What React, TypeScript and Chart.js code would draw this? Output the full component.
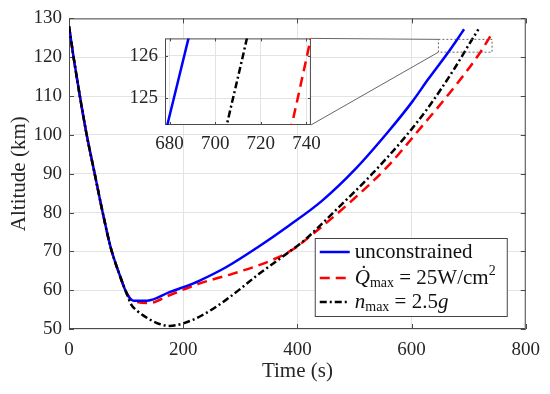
import React, { useEffect, useRef } from "react";
import { Chart, registerables } from "chart.js";
Chart.register(...registerables);

// ---- data (time in s, altitude in km) ----
const descentTime = [0, 8, 19, 31, 45, 59, 73, 89];
const descentAlt = [128, 120, 110, 100, 90, 80, 71, 63.8];

const unconTime = [100, 106, 113, 137, 176, 217, 228, 275, 330, 385, 443, 501, 559, 601, 629, 664, 679, 688.3, 692];
const unconAlt = [59.5, 58.0, 57.3, 57.3, 59.5, 61.7, 62.4, 65.9, 71, 76.6, 83, 91.1, 100.8, 108.5, 114.3, 121.2, 124.37, 126.41, 127.2];

const heatTime = [100, 113, 141, 176, 228, 286, 350, 391, 420, 501, 559, 617, 676, 722, 733.6, 741.9, 743];
const heatAlt = [59.6, 57.2, 56.7, 58.7, 61.7, 64.2, 67.4, 70.4, 73.6, 83.8, 92, 102, 112.5, 121.6, 124.37, 126.41, 126.7];

const loadTime = [100, 109, 120, 130, 153, 176, 199, 234, 275, 333, 385, 411, 472, 530, 589, 629, 676, 705.1, 713.9, 717];
const loadAlt = [59.5, 56.3, 54.6, 53.5, 51.6, 50.8, 51.4, 53.6, 57.5, 64.2, 69.8, 72.7, 81.3, 89.8, 99.5, 107, 117.3, 124.37, 126.41, 127.2];

const xTicksMain = [0, 200, 400, 600, 800];
const yTicksMain = [50, 60, 70, 80, 90, 100, 110, 120, 130];
const xTicksInset = [680, 700, 720, 740];
const yTicksInset = [125, 126];
const insetRange = { xMin: 678, xMax: 742, yMin: 124.37, yMax: 126.41 };
const zoomBox = { xMin: 647, xMax: 741, yMin: 121.3, yMax: 124.6 };

const legendLabels = ["unconstrained", "Q\u0307", "max", " = 25W/cm", "2", "n", "max", " = 2.5", "g"];

const FONT = "'Liberation Serif', 'Times New Roman', serif";
const AXIS_COLOR = "#4a4a4a";
const GRID_COLOR = "#e3e3e3";

function pts(t: number[], a: number[]) {
  return t.map((x, i) => ({ x, y: a[i] }));
}

function buildDatasets() {
  const common = pts(descentTime, descentAlt);
  return [
    {
      label: legendLabels[0],
      data: [...common, ...pts(unconTime, unconAlt)],
      borderColor: "#0000ff",
      borderWidth: 2.5,
      order: 1,
    },
    {
      label: "heat",
      data: [...common, ...pts(heatTime, heatAlt)],
      borderColor: "#ff0000",
      borderWidth: 2.5,
      borderDash: [10, 6],
      order: 2,
    },
    {
      label: "load",
      data: [...common, ...pts(loadTime, loadAlt)],
      borderColor: "#000000",
      borderWidth: 2.5,
      borderDash: [7, 3, 2, 3],
      order: 0,
    },
  ].map((d) => ({
    ...d,
    pointRadius: 0,
    fill: false,
    cubicInterpolationMode: "monotone" as const,
  }));
}

function boxTicks(len: number) {
  return {
    id: "boxTicks",
    beforeDatasetsDraw(chart: any) {
      const { ctx, chartArea: ca, scales } = chart;
      ctx.save();
      ctx.strokeStyle = AXIS_COLOR;
      ctx.lineWidth = 1;
      ctx.setLineDash([]);
      ctx.strokeRect(ca.left + 0.5, ca.top + 0.5, ca.right - ca.left - 1, ca.bottom - ca.top - 1);
      ctx.beginPath();
      for (const t of scales.x.ticks) {
        const px = Math.round(scales.x.getPixelForValue(t.value)) + 0.5;
        ctx.moveTo(px, ca.bottom);
        ctx.lineTo(px, ca.bottom - len);
        ctx.moveTo(px, ca.top);
        ctx.lineTo(px, ca.top + len);
      }
      for (const t of scales.y.ticks) {
        const py = Math.round(scales.y.getPixelForValue(t.value)) + 0.5;
        ctx.moveTo(ca.left, py);
        ctx.lineTo(ca.left + len, py);
        ctx.moveTo(ca.right, py);
        ctx.lineTo(ca.right - len, py);
      }
      ctx.stroke();
      ctx.restore();
    },
  };
}

type Run = { text: string; size: number; italic?: boolean; dy?: number };
function drawRuns(ctx: CanvasRenderingContext2D, x: number, y: number, runs: Run[]) {
  for (const r of runs) {
    ctx.font = `${r.italic ? "italic " : ""}${r.size}px ${FONT}`;
    ctx.fillText(r.text, x, y + (r.dy || 0));
    x += ctx.measureText(r.text).width;
  }
}

const tickFont = { family: FONT, size: 19 };
const titleFont = { family: FONT, size: 21 };

export default function App() {
  const mainRef = useRef<HTMLCanvasElement>(null);
  const insetRef = useRef<HTMLCanvasElement>(null);

  useEffect(() => {
    document.body.style.margin = "0";
    Chart.defaults.font.family = FONT;
    Chart.defaults.color = "#262626";

    const INSET_LEFT = 110;
    const INSET_TOP = 20;

    const insetChart = new Chart(insetRef.current!, {
      type: "line",
      data: { datasets: buildDatasets() as any },
      options: {
        responsive: false,
        animation: false,
        events: [],
        font: { family: FONT },
        layout: { padding: { top: 11, right: 12, left: 0, bottom: 0 } },
        plugins: { legend: { display: false }, tooltip: { enabled: false } },
        scales: {
          x: {
            type: "linear",
            min: insetRange.xMin,
            max: insetRange.xMax,
            afterBuildTicks: (s: any) => {
              s.ticks = xTicksInset.map((v) => ({ value: v }));
            },
            afterFit: (s: any) => {
              s.height = 45;
            },
            grid: { color: GRID_COLOR, drawTicks: false },
            border: { display: false },
            ticks: { font: tickFont, padding: 8, maxRotation: 0, color: "#262626" },
          },
          y: {
            type: "linear",
            min: insetRange.yMin,
            max: insetRange.yMax,
            afterBuildTicks: (s: any) => {
              s.ticks = yTicksInset.map((v) => ({ value: v }));
            },
            afterFit: (s: any) => {
              s.width = 55;
            },
            grid: { color: GRID_COLOR, drawTicks: false },
            border: { display: false },
            ticks: { font: tickFont, padding: 7, color: "#262626" },
          },
        },
      } as any,
      plugins: [
        {
          id: "insetBg",
          beforeDraw(chart: any) {
            const { ctx, chartArea: ca } = chart;
            ctx.save();
            ctx.fillStyle = "#ffffff";
            ctx.fillRect(ca.left, ca.top, ca.right - ca.left, ca.bottom - ca.top);
            ctx.restore();
          },
        },
        boxTicks(3),
      ],
    });

    const overlay = {
      id: "overlay",
      afterDatasetsDraw(chart: any) {
        const { ctx, chartArea: ca, scales } = chart;
        const x = scales.x;
        const y = scales.y;
        ctx.save();
        // zoom rectangle
        const rx1 = x.getPixelForValue(zoomBox.xMin);
        const rx2 = x.getPixelForValue(zoomBox.xMax);
        const ry1 = y.getPixelForValue(zoomBox.yMax);
        const ry2 = y.getPixelForValue(zoomBox.yMin);
        ctx.strokeStyle = "#555555";
        ctx.lineWidth = 0.9;
        ctx.setLineDash([2, 2]);
        ctx.strokeRect(rx1, ry1, rx2 - rx1, ry2 - ry1);
        ctx.setLineDash([]);
        // connectors to inset
        const ia = insetChart.chartArea;
        if (ia) {
          ctx.beginPath();
          ctx.moveTo(INSET_LEFT + ia.right, INSET_TOP + ia.top);
          ctx.lineTo(rx1, ry1);
          ctx.moveTo(INSET_LEFT + ia.right, INSET_TOP + ia.bottom);
          ctx.lineTo(rx1, ry2);
          ctx.stroke();
        }
        // legend
        const lw = 193;
        const lh = 79;
        const lx = ca.right - 18 - lw;
        const ly = ca.bottom - 12 - lh;
        ctx.fillStyle = "#ffffff";
        ctx.fillRect(lx, ly, lw, lh);
        ctx.strokeStyle = "#444444";
        ctx.lineWidth = 1;
        ctx.strokeRect(lx + 0.5, ly + 0.5, lw - 1, lh - 1);
        const rows = [ly + 14, ly + 40, ly + 64];
        const ds = chart.data.datasets;
        rows.forEach((ry: number, i: number) => {
          ctx.beginPath();
          ctx.strokeStyle = ds[i].borderColor;
          ctx.lineWidth = 2.5;
          ctx.setLineDash(ds[i].borderDash || []);
          ctx.moveTo(lx + 5, ry);
          ctx.lineTo(lx + 35, ry);
          ctx.stroke();
        });
        ctx.setLineDash([]);
        ctx.fillStyle = "#111111";
        ctx.textBaseline = "middle";
        const tx = lx + 40;
        drawRuns(ctx, tx, rows[0], [{ text: legendLabels[0], size: 21 }]);
        drawRuns(ctx, tx, rows[1], [
          { text: legendLabels[1], size: 21, italic: true },
          { text: legendLabels[2], size: 14, dy: 5 },
          { text: legendLabels[3], size: 21 },
          { text: legendLabels[4], size: 14, dy: -7 },
        ]);
        drawRuns(ctx, tx, rows[2], [
          { text: legendLabels[5], size: 21, italic: true },
          { text: legendLabels[6], size: 14, dy: 5 },
          { text: legendLabels[7], size: 21 },
          { text: legendLabels[8], size: 21, italic: true },
        ]);
        ctx.restore();
      },
    };

    const mainChart = new Chart(mainRef.current!, {
      type: "line",
      data: { datasets: buildDatasets() as any },
      options: {
        responsive: false,
        animation: false,
        events: [],
        font: { family: FONT },
        layout: { padding: { top: 16, right: 22, left: 0, bottom: 0 } },
        plugins: { legend: { display: false }, tooltip: { enabled: false } },
        scales: {
          x: {
            type: "linear",
            min: 0,
            max: 800,
            afterBuildTicks: (s: any) => {
              s.ticks = xTicksMain.map((v) => ({ value: v }));
            },
            afterFit: (s: any) => {
              s.height = 65;
            },
            grid: { color: GRID_COLOR, drawTicks: false },
            border: { display: false },
            ticks: { font: tickFont, padding: 10, maxRotation: 0, color: "#262626" },
            title: { display: true, text: "Time (s)", font: titleFont, color: "#262626", padding: { top: 0, bottom: 10 } },
          },
          y: {
            type: "linear",
            min: 50,
            max: 130,
            afterBuildTicks: (s: any) => {
              s.ticks = yTicksMain.map((v) => ({ value: v }));
            },
            afterFit: (s: any) => {
              s.width = 69;
            },
            grid: { color: GRID_COLOR, drawTicks: false },
            border: { display: false },
            ticks: { font: tickFont, padding: 7, color: "#262626" },
            title: { display: true, text: "Altitude (km)", font: titleFont, color: "#262626", padding: { top: 7, bottom: 0 } },
          },
        },
      } as any,
      plugins: [boxTicks(5), overlay],
    });

    return () => {
      mainChart.destroy();
      insetChart.destroy();
    };
  }, []);

  return (
    <div style={{ position: "relative", width: 550, height: 394, background: "#ffffff" }}>
      <canvas ref={mainRef} width={550} height={394} style={{ position: "absolute", left: 0, top: 0 }} />
      <canvas ref={insetRef} width={219} height={150} style={{ position: "absolute", left: 110, top: 20 }} />
    </div>
  );
}
